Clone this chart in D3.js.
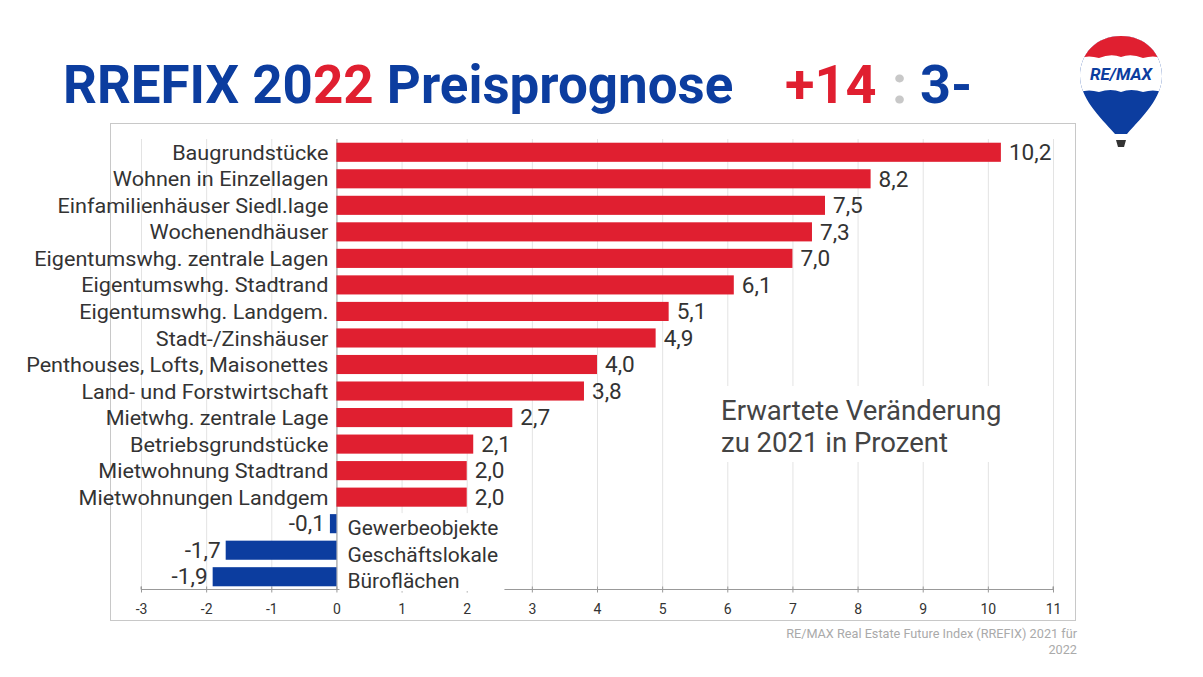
<!DOCTYPE html>
<html><head><meta charset="utf-8">
<script src="https://cdn.jsdelivr.net/npm/d3@7"></script>
<style>body{margin:0;background:#fff;}svg{display:block;font-family:Roboto,"Noto Sans",sans-serif;}</style>
</head><body><svg id="c" width="1203" height="677"></svg>
<script>
const categories = ["Baugrundstücke","Wohnen in Einzellagen","Einfamilienhäuser Siedl.lage","Wochenendhäuser","Eigentumswhg. zentrale Lagen","Eigentumswhg. Stadtrand","Eigentumswhg. Landgem.","Stadt-/Zinshäuser","Penthouses, Lofts, Maisonettes","Land- und Forstwirtschaft","Mietwhg. zentrale Lage","Betriebsgrundstücke","Mietwohnung Stadtrand","Mietwohnungen Landgem","Gewerbeobjekte","Geschäftslokale","Büroflächen"];
const values = [10.2,8.2,7.5,7.3,7.0,6.1,5.1,4.9,4.0,3.8,2.7,2.1,2.0,2.0,-0.1,-1.7,-1.9];
const xTicks = [-3,-2,-1,0,1,2,3,4,5,6,7,8,9,10,11];
const RED = "#e01f30", BLUE = "#0c3d9f";

const svg = d3.select("#c");
// Title
const TF = 54;
const t = svg.append("text").attr("transform","translate(63,103) scale(0.98,1)").attr("font-size",TF).attr("font-weight",700).attr("fill",BLUE);
t.append("tspan").text("RREFIX 20");
t.append("tspan").attr("fill",RED).text("22");
t.append("tspan").text(" Preisprognose");
svg.append("text").attr("x",785).attr("y",103).attr("font-size",TF).attr("font-weight",700).attr("fill",RED).text("+14");
svg.append("text").attr("x",892).attr("y",103).attr("font-size",TF).attr("font-weight",700).attr("fill","#c8c8c8").text(":");
svg.append("text").attr("x",920).attr("y",103).attr("font-size",TF).attr("font-weight",700).attr("fill",BLUE).text("3-");

// Frame
svg.append("rect").attr("x",110.5).attr("y",123.5).attr("width",965).attr("height",497).attr("fill","none").attr("stroke","#c8c8c8");

const x = d3.scaleLinear().domain([-3,11]).range([141,1053]);
const y = d3.scaleBand().domain(categories).range([139,590]).paddingInner(0.28).paddingOuter(0.14);

// Gridlines
svg.append("g").selectAll("line").data(xTicks).join("line")
  .attr("x1",d=>x(d)+0.5).attr("x2",d=>x(d)+0.5).attr("y1",139).attr("y2",589)
  .attr("stroke","#e3e3e3");

// Annotation background
svg.append("rect").attr("x",712).attr("y",386).attr("width",310).attr("height",76).attr("fill","#fff");
svg.append("text").attr("x",721).attr("y",420).attr("font-size",27.5).attr("fill","#444").text("Erwartete Veränderung");
svg.append("text").attr("x",721).attr("y",452).attr("font-size",27.5).attr("fill","#444").text("zu 2021 in Prozent");

// x axis
const ax = svg.append("g").attr("transform","translate(0,589.5)")
  .call(d3.axisBottom(x).tickValues(xTicks).tickSize(5).tickFormat(d=>String(d)));
ax.select(".domain").attr("stroke","#999").attr("d", "M"+x(-3)+",-3V0H"+x(11)+"V-3");
ax.selectAll(".tick line").attr("stroke","#999").attr("y1",-3).attr("y2",3);
ax.selectAll(".tick text").attr("font-size",14).attr("fill","#333").attr("dy","1.15em").attr("font-family","Roboto,sans-serif");

// zero line
svg.append("line").attr("x1",x(0)+0.5).attr("x2",x(0)+0.5).attr("y1",139).attr("y2",589).attr("stroke","#999");

// bars
const rows = categories.map((c,i)=>({c, v:values[i]}));
svg.append("g").selectAll("rect").data(rows).join("rect")
  .attr("x",d=>x(Math.min(0,d.v))).attr("width",d=>Math.abs(x(d.v)-x(0)))
  .attr("y",d=>y(d.c)).attr("height",y.bandwidth())
  .attr("fill",d=>d.v<0?BLUE:RED);

// label background for negatives
svg.append("rect").attr("x",x(0)+3).attr("y",y(categories[14])-1).attr("width",165).attr("height",y(categories[16])+y.bandwidth()-y(categories[14])+6).attr("fill","#fff");

// category labels
svg.append("g").selectAll("text").data(rows).join("text")
  .attr("transform",d=>`translate(${d.v<0? x(0)+11 : x(0)-8},${y(d.c)+y.bandwidth()/2+(d.v<0?4:0)}) scale(${d.v<0?1:1.03},1)`)
  .attr("dy","0.36em")
  .attr("text-anchor",d=>d.v<0?"start":"end")
  .attr("font-size",21).attr("fill","#333").text(d=>d.c);

// value labels
const fmt = v=>d3.format(".1f")(v).replace(".",",").replace("−","-");
svg.append("g").selectAll("text").data(rows).join("text")
  .attr("transform",d=>`translate(${d.v<0? x(d.v)-5 : x(d.v)+8},${y(d.c)+y.bandwidth()/2}) scale(1.05,1)`)
  .attr("dy","0.36em")
  .attr("text-anchor",d=>d.v<0?"end":"start")
  .attr("font-size",21.5).attr("fill","#333").text(d=>fmt(d.v));

// source
svg.append("text").attr("x",1077).attr("y",638).attr("text-anchor","end").attr("font-size",12.7).attr("fill","#aaa").text("RE/MAX Real Estate Future Index (RREFIX) 2021 für");
svg.append("text").attr("x",1077).attr("y",654).attr("text-anchor","end").attr("font-size",12.7).attr("fill","#aaa").text("2022");

// Logo balloon
const lg = svg.append("g").attr("transform","translate(1121,0)");
const defs = svg.append("defs");
defs.append("clipPath").attr("id","bal").append("path")
  .attr("d","M0,36 C-25,36 -41,54 -41,76 C-41,98 -22,116 -6,134 L6,134 C22,116 41,98 41,76 C41,54 25,36 0,36 Z");
const b = lg.append("g").attr("clip-path","url(#bal)");
b.append("rect").attr("x",-45).attr("y",30).attr("width",90).attr("height",110).attr("fill","#0c3d9f");
b.append("path").attr("d","M-45,30 H45 V94 Q35,88 22,92 Q10,88 0,92 Q-10,88 -22,92 Q-35,88 -45,94 Z").attr("fill","#fff");
b.append("path").attr("d","M-45,30 H45 V60 Q35,54 22,58 Q10,53 0,57 Q-10,53 -22,58 Q-35,54 -45,60 Z").attr("fill","#e01f30");
lg.append("text").attr("x",0).attr("y",80).attr("text-anchor","middle").attr("font-size",17).attr("font-weight",700).attr("fill","#0c3d9f").style("font-style","italic").text("RE/MAX");
lg.append("path").attr("d","M-5,140 H5 L3,147 H-3 Z").attr("fill","#333");
</script></body></html>
